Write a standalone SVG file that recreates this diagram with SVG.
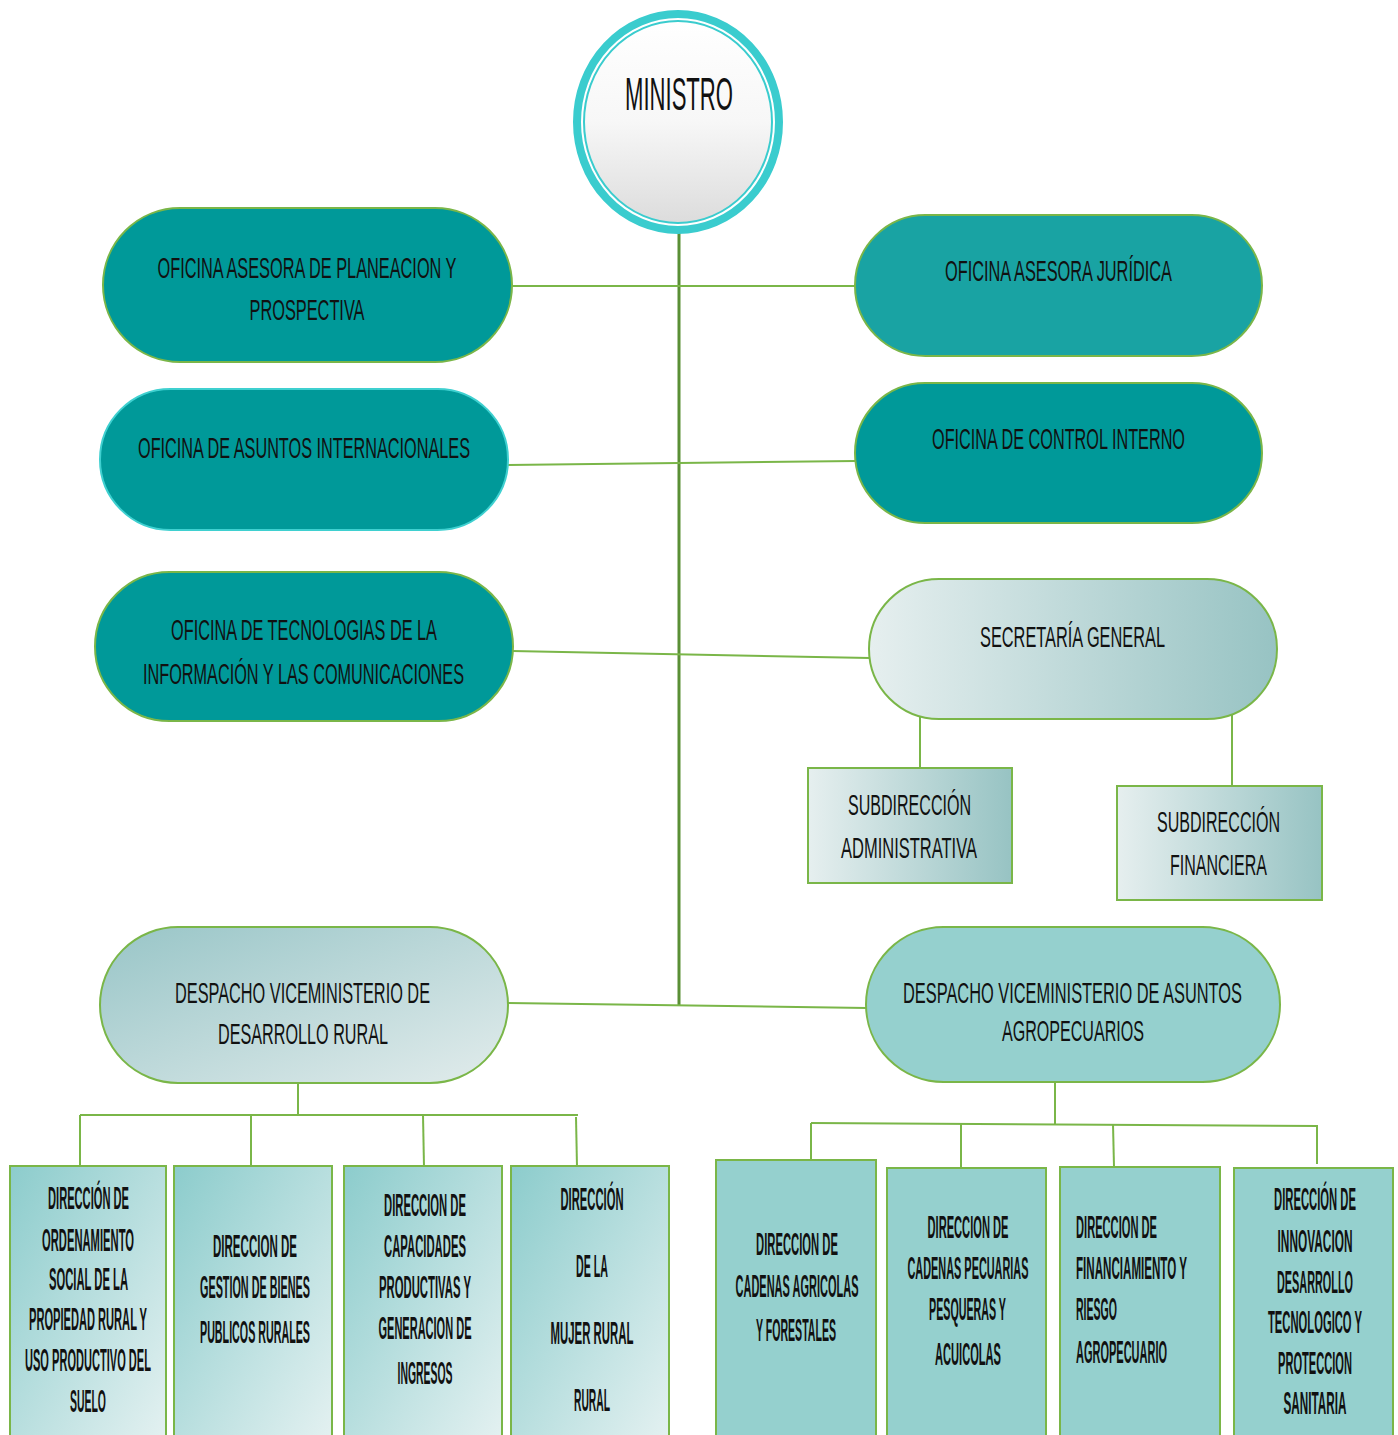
<svg xmlns="http://www.w3.org/2000/svg" width="1398" height="1435" viewBox="0 0 1398 1435">
<defs>
<linearGradient id="gMin" x1="0" y1="0" x2="0" y2="1"><stop offset="0" stop-color="#ffffff"/><stop offset="0.5" stop-color="#f7f7f7"/><stop offset="1" stop-color="#dcdcdc"/></linearGradient>
<linearGradient id="gSec" x1="0" y1="0" x2="1" y2="0"><stop offset="0" stop-color="#e6efef"/><stop offset="1" stop-color="#97c3c3"/></linearGradient>
<linearGradient id="gDvdr" x1="0" y1="0" x2="1" y2="1"><stop offset="0" stop-color="#98c5c7"/><stop offset="1" stop-color="#e2ecec"/></linearGradient>
<linearGradient id="gBox" x1="0" y1="0" x2="1" y2="1"><stop offset="0" stop-color="#8ccccc"/><stop offset="1" stop-color="#e4f1f1"/></linearGradient>
<style>
.pill{stroke:#7ab648;stroke-width:2}
.teal{fill:#009999}
.t{font-family:"Liberation Sans Narrow","Liberation Sans",Arial,sans-serif;font-size:30px;fill:#111;text-anchor:middle}
.b{font-family:"Liberation Sans Narrow","Liberation Sans",Arial,sans-serif;font-size:31px;font-weight:bold;fill:#111;text-anchor:middle}
.bs{text-anchor:start}
.box{stroke:#7ab648;stroke-width:2}
.ln{stroke:#7ab648;stroke-width:2;fill:none}
.main{stroke:#5a8f35;stroke-width:3;fill:none}
</style>
</defs>

<g id="connectors">
<line class="main" x1="679" y1="232" x2="679" y2="1005"/>
<line class="ln" x1="511" y1="286" x2="856" y2="286"/>
<line class="ln" x1="507" y1="465" x2="856" y2="461"/>
<line class="ln" x1="512" y1="651" x2="870" y2="658"/>
<line class="ln" x1="507" y1="1003" x2="867" y2="1008"/>
<line class="ln" x1="920" y1="716" x2="920" y2="769"/>
<line class="ln" x1="1232" y1="713" x2="1232" y2="787"/>
<line class="ln" x1="298" y1="1082" x2="298" y2="1115"/>
<line class="ln" x1="80" y1="1115" x2="578" y2="1115"/>
<line class="ln" x1="80" y1="1115" x2="80" y2="1168"/>
<line class="ln" x1="251" y1="1115" x2="251" y2="1167"/>
<line class="ln" x1="423" y1="1115" x2="424" y2="1167"/>
<line class="ln" x1="576" y1="1117" x2="577" y2="1167"/>
<line class="ln" x1="1055" y1="1081" x2="1055" y2="1124"/>
<line class="ln" x1="811" y1="1123" x2="1318" y2="1126"/>
<line class="ln" x1="811" y1="1123" x2="811" y2="1166"/>
<line class="ln" x1="961" y1="1124" x2="961" y2="1168"/>
<line class="ln" x1="1113" y1="1124" x2="1114" y2="1167"/>
<line class="ln" x1="1317" y1="1126" x2="1317" y2="1164"/>
</g>

<g id="ministro">
<ellipse cx="678" cy="122" rx="101" ry="108" fill="#ffffff" stroke="#3accce" stroke-width="8"/>
<ellipse cx="678" cy="122" rx="94" ry="101" fill="url(#gMin)" stroke="#3accce" stroke-width="2"/>
<text class="t" x="679" y="110" textLength="108" lengthAdjust="spacingAndGlyphs" style="font-size:46px">MINISTRO</text>
</g>

<g id="planeacion">
<rect class="pill teal" x="103" y="208" width="409" height="154" rx="77"/>
<text class="t" x="307" y="278" textLength="299" lengthAdjust="spacingAndGlyphs">OFICINA ASESORA DE PLANEACION Y</text>
<text class="t" x="307" y="320" textLength="115" lengthAdjust="spacingAndGlyphs">PROSPECTIVA</text>
</g>

<g id="juridica">
<rect class="pill" x="855" y="215" width="407" height="141" rx="70.5" fill="#19a3a3"/>
<text class="t" x="1058.5" y="281" textLength="227" lengthAdjust="spacingAndGlyphs">OFICINA ASESORA JURÍDICA</text>
</g>

<g id="internacionales">
<rect x="100" y="389" width="408" height="141" rx="70.5" fill="#009999" stroke="#3fd0d0" stroke-width="2"/>
<text class="t" x="304" y="458" textLength="332" lengthAdjust="spacingAndGlyphs">OFICINA DE ASUNTOS INTERNACIONALES</text>
</g>

<g id="control">
<rect class="pill teal" x="855" y="383" width="407" height="140" rx="70"/>
<text class="t" x="1058.5" y="449" textLength="253" lengthAdjust="spacingAndGlyphs">OFICINA DE CONTROL INTERNO</text>
</g>

<g id="tecnologias">
<rect class="pill teal" x="95" y="572" width="418" height="149" rx="74.5"/>
<text class="t" x="304" y="640" textLength="266" lengthAdjust="spacingAndGlyphs">OFICINA DE TECNOLOGIAS DE LA</text>
<text class="t" x="303.5" y="684" textLength="321" lengthAdjust="spacingAndGlyphs">INFORMACIÓN Y LAS COMUNICACIONES</text>
</g>

<g id="secretaria">
<rect class="pill" x="869" y="579" width="408" height="140" rx="70" fill="url(#gSec)"/>
<text class="t" x="1072.5" y="647" textLength="185" lengthAdjust="spacingAndGlyphs">SECRETARÍA GENERAL</text>
</g>

<g id="sub-administrativa">
<rect class="box" x="808" y="768" width="204" height="115" fill="url(#gSec)"/>
<text class="t" x="909.5" y="815" textLength="123" lengthAdjust="spacingAndGlyphs">SUBDIRECCIÓN</text>
<text class="t" x="909" y="858" textLength="136" lengthAdjust="spacingAndGlyphs">ADMINISTRATIVA</text>
</g>

<g id="sub-financiera">
<rect class="box" x="1117" y="786" width="205" height="114" fill="url(#gSec)"/>
<text class="t" x="1218.5" y="832" textLength="123" lengthAdjust="spacingAndGlyphs">SUBDIRECCIÓN</text>
<text class="t" x="1218.5" y="875" textLength="97" lengthAdjust="spacingAndGlyphs">FINANCIERA</text>
</g>

<g id="vice-desarrollo-rural">
<rect class="pill" x="100" y="927" width="408" height="156" rx="78" fill="url(#gDvdr)"/>
<text class="t" x="302.5" y="1003" textLength="255" lengthAdjust="spacingAndGlyphs">DESPACHO VICEMINISTERIO DE</text>
<text class="t" x="303" y="1044" textLength="170" lengthAdjust="spacingAndGlyphs">DESARROLLO RURAL</text>
</g>

<g id="vice-agropecuarios">
<rect class="pill" x="866" y="927" width="414" height="155" rx="77.5" fill="#95d0ce"/>
<text class="t" x="1072.5" y="1003" textLength="339" lengthAdjust="spacingAndGlyphs">DESPACHO VICEMINISTERIO DE ASUNTOS</text>
<text class="t" x="1073" y="1041" textLength="142" lengthAdjust="spacingAndGlyphs">AGROPECUARIOS</text>
</g>

<g id="dir-ordenamiento">
<rect class="box" x="10" y="1166" width="156" height="275" fill="url(#gBox)"/>
<text class="b" x="88.5" y="1209" textLength="81" lengthAdjust="spacingAndGlyphs">DIRECCIÓN DE</text>
<text class="b" x="88" y="1251" textLength="92" lengthAdjust="spacingAndGlyphs">ORDENAMIENTO</text>
<text class="b" x="88.5" y="1290" textLength="79" lengthAdjust="spacingAndGlyphs">SOCIAL DE LA</text>
<text class="b" x="88" y="1330" textLength="118" lengthAdjust="spacingAndGlyphs">PROPIEDAD RURAL Y</text>
<text class="b" x="88" y="1371" textLength="126" lengthAdjust="spacingAndGlyphs">USO PRODUCTIVO DEL</text>
<text class="b" x="88" y="1412" textLength="36" lengthAdjust="spacingAndGlyphs">SUELO</text>
</g>

<g id="dir-bienes-publicos">
<rect class="box" x="174" y="1166" width="158" height="275" fill="url(#gBox)"/>
<text class="b" x="255" y="1257" textLength="84" lengthAdjust="spacingAndGlyphs">DIRECCION  DE</text>
<text class="b" x="255" y="1298" textLength="110" lengthAdjust="spacingAndGlyphs">GESTION DE BIENES</text>
<text class="b" x="255" y="1343" textLength="110" lengthAdjust="spacingAndGlyphs">PUBLICOS RURALES</text>
</g>

<g id="dir-capacidades">
<rect class="box" x="344" y="1166" width="158" height="275" fill="url(#gBox)"/>
<text class="b" x="425" y="1216" textLength="82" lengthAdjust="spacingAndGlyphs">DIRECCION DE</text>
<text class="b" x="425" y="1257" textLength="82" lengthAdjust="spacingAndGlyphs">CAPACIDADES</text>
<text class="b" x="425" y="1298" textLength="92" lengthAdjust="spacingAndGlyphs">PRODUCTIVAS Y</text>
<text class="b" x="425" y="1339" textLength="93" lengthAdjust="spacingAndGlyphs">GENERACION DE</text>
<text class="b" x="425" y="1384" textLength="55" lengthAdjust="spacingAndGlyphs">INGRESOS</text>
</g>

<g id="dir-mujer-rural">
<rect class="box" x="511" y="1166" width="158" height="275" fill="url(#gBox)"/>
<text class="b" x="592" y="1210" textLength="63" lengthAdjust="spacingAndGlyphs">DIRECCIÓN</text>
<text class="b" x="592" y="1277" textLength="32" lengthAdjust="spacingAndGlyphs">DE LA</text>
<text class="b" x="592" y="1344" textLength="83" lengthAdjust="spacingAndGlyphs">MUJER  RURAL</text>
<text class="b" x="592" y="1411" textLength="36" lengthAdjust="spacingAndGlyphs">RURAL</text>
</g>

<g id="dir-cadenas-agricolas">
<rect class="box" x="716" y="1160" width="160" height="281" fill="#95d0ce"/>
<text class="b" x="797" y="1255" textLength="82" lengthAdjust="spacingAndGlyphs">DIRECCION DE</text>
<text class="b" x="797" y="1297" textLength="123" lengthAdjust="spacingAndGlyphs">CADENAS AGRICOLAS</text>
<text class="b" x="796" y="1341" textLength="80" lengthAdjust="spacingAndGlyphs">Y FORESTALES</text>
</g>

<g id="dir-cadenas-pecuarias">
<rect class="box" x="887" y="1168" width="159" height="273" fill="#95d0ce"/>
<text class="b" x="968" y="1238" textLength="81" lengthAdjust="spacingAndGlyphs">DIRECCION DE</text>
<text class="b" x="968" y="1279" textLength="121" lengthAdjust="spacingAndGlyphs">CADENAS PECUARIAS</text>
<text class="b" x="967.5" y="1320" textLength="77" lengthAdjust="spacingAndGlyphs">PESQUERAS Y</text>
<text class="b" x="968" y="1365" textLength="66" lengthAdjust="spacingAndGlyphs">ACUICOLAS</text>
</g>

<g id="dir-financiamiento">
<rect class="box" x="1060" y="1167" width="160" height="274" fill="#95d0ce"/>
<text class="b bs" x="1076" y="1238" textLength="81" lengthAdjust="spacingAndGlyphs">DIRECCION DE</text>
<text class="b bs" x="1076" y="1279" textLength="111" lengthAdjust="spacingAndGlyphs">FINANCIAMIENTO Y</text>
<text class="b bs" x="1076" y="1320" textLength="41" lengthAdjust="spacingAndGlyphs">RIESGO</text>
<text class="b bs" x="1076" y="1363" textLength="91" lengthAdjust="spacingAndGlyphs">AGROPECUARIO</text>
</g>

<g id="dir-innovacion">
<rect class="box" x="1234" y="1168" width="159" height="273" fill="#95d0ce"/>
<text class="b" x="1315" y="1210" textLength="82" lengthAdjust="spacingAndGlyphs">DIRECCIÓN DE</text>
<text class="b" x="1315" y="1252" textLength="75" lengthAdjust="spacingAndGlyphs">INNOVACION</text>
<text class="b" x="1315" y="1293" textLength="76" lengthAdjust="spacingAndGlyphs">DESARROLLO</text>
<text class="b" x="1315" y="1333" textLength="94" lengthAdjust="spacingAndGlyphs">TECNOLOGICO Y</text>
<text class="b" x="1315" y="1374" textLength="74" lengthAdjust="spacingAndGlyphs">PROTECCION</text>
<text class="b" x="1315" y="1414" textLength="63" lengthAdjust="spacingAndGlyphs">SANITARIA</text>
</g>
</svg>
